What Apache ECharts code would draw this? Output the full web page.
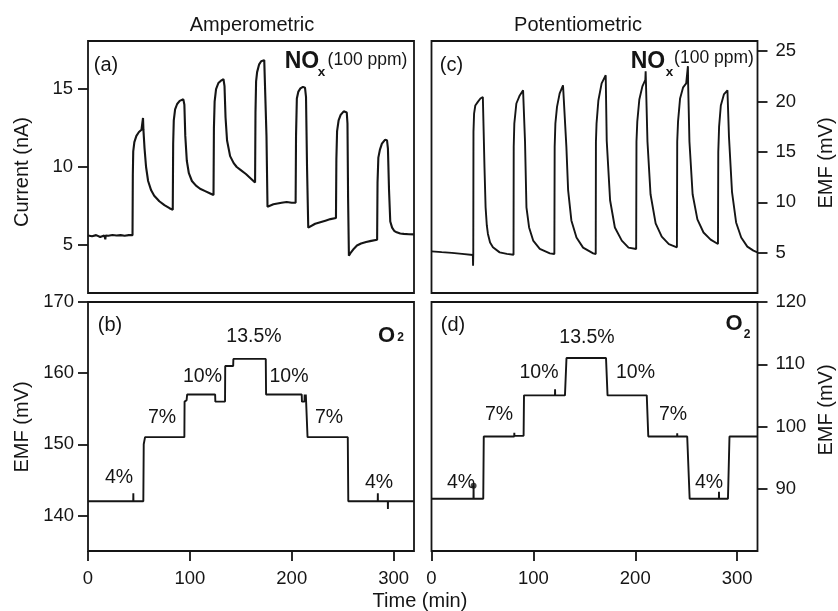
<!DOCTYPE html>
<html>
<head>
<meta charset="utf-8">
<script src="https://cdn.jsdelivr.net/npm/echarts@6/dist/echarts.min.js"></script>
<style>
  html, body { margin: 0; padding: 0; background: #fff; }
  #chart { width: 838px; height: 611px; }
</style>
</head>
<body>
<div id="chart"></div>
<script>
// ---------------- data ----------------
const timeTicks = [0, 100, 200, 300];
const currentTicks = [5, 10, 15];
const noxEmfTicks = [5, 10, 15, 20, 25];
const o2AmpEmfTicks = [140, 150, 160, 170];
const o2PotEmfTicks = [90, 100, 110, 120];
const o2Levels = ['4%', '7%', '10%', '13.5%', '10%', '7%', '4%'];

// (a) amperometric sensor current, nA vs min
const ampNoxCurrent = [
  [0,5.6],[4,5.55],[8,5.62],[12,5.5],[16,5.6],[17,5.35],[17.4,5.6],[20,5.58],[24,5.63],[28,5.6],[32,5.62],[36,5.58],[40,5.62],[43.7,5.62],
  [44,9.5],[44.4,11.0],[45.5,11.6],[47.5,12.0],[50,12.25],[52.5,12.4],[53.7,12.5],[54,13.15],[54.4,12.4],[55.5,11.2],[57,10.0],[59,9.1],[62,8.5],[65,8.15],[70,7.8],[75,7.55],[80,7.35],[83.2,7.25],
  [83.6,11.5],[84.2,13.0],[85.5,13.7],[87.5,14.05],[90,14.25],[93.6,14.35],[94.6,14.0],[95.5,12.0],[97,10.4],[99,9.6],[102,9.1],[106,8.8],[110,8.6],[115,8.45],[120,8.3],[123.2,8.2],
  [123.6,12.5],[124.3,14.2],[125.7,15.0],[128,15.4],[130.5,15.55],[133,15.64],[134,15.2],[135,13.2],[136.5,11.7],[139.5,10.7],[143,10.25],[146,10.0],[150,9.8],[155,9.55],[160,9.25],[164,9.0],
  [164.4,13.5],[165,15.5],[166,16.1],[168,16.6],[170,16.8],[173,16.87],[174.6,16.75],[175.2,12.0],[176.2,7.45],[178,7.55],[182,7.6],[186,7.65],[190,7.7],[195,7.75],[200,7.7],[203.8,7.7],
  [204.2,12.0],[205,14.4],[206.5,14.85],[208.5,15.05],[211,15.15],[213,15.1],[214,14.5],[215,10.0],[216.2,6.1],[218,6.15],[223,6.35],[228,6.45],[233,6.55],[238,6.65],[243.4,6.72],
  [243.8,10.5],[244.5,12.3],[246,13.0],[248,13.35],[251,13.58],[254,13.5],[254.7,12.8],[255.3,8.0],[256.1,4.3],[258,4.5],[261,4.75],[264,4.95],[268,5.08],[273,5.18],[278,5.25],[283.8,5.32],
  [284.2,9.0],[285,10.6],[286.5,11.1],[288.5,11.5],[291.5,11.75],[293.5,11.72],[294.4,11.2],[295.5,8.5],[296.7,6.5],[298.5,6.1],[300.5,5.9],[303,5.8],[306.5,5.72],[310,5.7],[315,5.68],[320,5.67]
];

// (c) potentiometric sensor EMF, mV vs min
const potNoxEmf = [
  [0,5.13],[10,5.05],[20,4.98],[30,4.88],[40.6,4.77],[40.8,3.7],[41.0,4.8],[41.2,17.0],[41.8,18.8],[43,19.6],[45.5,19.96],[48,20.3],[50.4,20.45],
  [51.2,17.0],[52,13.5],[53.1,9.5],[54.3,7.7],[55.4,6.86],[57.5,6.0],[60.3,5.53],[66.9,5.03],[74,4.88],[80.5,4.8],
  [80.7,15.5],[81.3,17.8],[83.3,19.8],[86.6,20.6],[89.9,21.1],[90.5,21.1],[91.8,16.0],[93.2,9.5],[95.8,7.5],[99.8,6.2],[106.3,5.37],[116.2,4.93],[120.6,4.87],
  [120.9,15.5],[121.6,17.8],[123.2,19.46],[125.8,20.8],[129.1,21.6],[130.8,21.7],[132.4,15.5],[134.1,11.2],[137.3,8.2],[142.3,6.5],[148.8,5.5],[158.7,4.93],[161.2,4.87],
  [161.4,16.0],[162,17.8],[163.8,20.1],[167,21.8],[171,22.6],[172,16.1],[175.3,10.2],[180,7.5],[186.8,6.2],[193.4,5.5],[200.9,5.37],
  [201.2,16.0],[202,18.0],[204,20.2],[207,21.5],[209.9,22.15],[210.2,23.0],[210.5,21.9],[212,16.0],[215,10.8],[220,7.9],[226,6.6],[233,5.85],[240.9,5.53],
  [241.2,16.0],[242,18.0],[244,20.3],[247,21.4],[250,21.8],[251.5,21.85],[251.7,23.5],[251.9,21.8],[253.2,16.0],[256.3,10.8],[261,8.3],[267,7.0],[274,6.3],[281.2,5.86],
  [281.5,15.0],[282.3,17.5],[284,19.6],[287,20.7],[290.5,21.1],[292,16.5],[295,11.0],[299,8.0],[304,6.5],[310,5.6],[316,5.2],[320,5.03]
];

// (b) O2 staircase seen by the amperometric cell, mV vs min
const ampO2Emf = [
  [0,142],[44.4,142],[44.5,143.1],[44.6,142],[54.3,142],[54.7,150],[55.6,150.2],[56,151],[94.6,151],[94.8,156],[96.8,156.2],[97.3,157],
  [124.8,157],[125,156],[134.5,156],[134.7,161],[142.5,161],[142.7,162],[174.5,162],[174.8,157],[209.8,157],[210,156],[212.5,156],
  [212.7,157],[213.3,156.2],[213.8,157],[214.1,156],[215.5,151],[255,151],[255.5,142],[284.4,142],[284.5,143.1],[284.6,142],
  [294.3,142],[294.4,140.9],[294.5,142],[320,142]
];

// (d) O2 staircase seen by the potentiometric cell, mV vs min
const potO2Emf = [
  [0,88.4],[41.2,88.4],[41.3,90.5],[41.4,88.4],[50.8,88.4],[51.3,98.4],[81.2,98.4],[81.3,99.0],[81.4,98.5],[90.4,98.5],[90.8,105],
  [121.2,105],[121.3,106],[121.4,105],[131,105],[132.5,111],[171.3,111],[172.8,105],[211.3,105],[212.8,98.4],[241.1,98.4],[241.2,98.9],
  [241.3,98.4],[251,98.4],[253.4,88.4],[282.1,88.4],[282.2,89.5],[282.3,88.4],[291,88.4],[292.5,98.4],[320,98.4]
];
const potO2Marker = [[41.3, 90.5]];

// ---------------- layout & styling ----------------
const FONT = '"Liberation Sans", Arial, Helvetica, sans-serif';
const INK = '#151515';
const TICK_FS = 18.5;

const grids = [
  { left: 88,    top: 41,  width: 326, height: 252 },  // (a)
  { left: 88,    top: 302, width: 326, height: 249 },  // (b)
  { left: 431.5, top: 41,  width: 326, height: 252 },  // (c)
  { left: 431.5, top: 302, width: 326, height: 249 }   // (d)
].map(g => Object.assign({
  show: true, borderColor: INK, borderWidth: 1.8, backgroundColor: 'transparent',
  containLabel: false, outerBoundsMode: 'none'
}, g));

function xAxisFor(gi, labelled) {
  return {
    type: 'value', gridIndex: gi, min: 0, max: 320, position: 'bottom',
    axisLine: { show: false, onZero: false },
    splitLine: { show: false },
    axisTick: { show: labelled, inside: false, length: 10, customValues: timeTicks,
                lineStyle: { color: INK, width: 1.8 } },
    axisLabel: { show: labelled, customValues: timeTicks, margin: 18,
                 fontSize: TICK_FS, fontFamily: FONT, color: INK }
  };
}
function yAxisFor(gi, min, max, ticks, pos, margin) {
  return {
    type: 'value', gridIndex: gi, min, max, position: pos,
    axisLine: { show: false, onZero: false },
    splitLine: { show: false },
    axisTick: { show: true, inside: false, length: 10, customValues: ticks,
                lineStyle: { color: INK, width: 1.8 } },
    axisLabel: { show: true, customValues: ticks, margin,
                 fontSize: TICK_FS, fontFamily: FONT, color: INK }
  };
}

function lineSeries(data, gi, width) {
  return {
    type: 'line', xAxisIndex: gi, yAxisIndex: gi, data,
    showSymbol: false, symbol: 'none', smooth: false, animation: false,
    lineStyle: { color: INK, width }
  };
}

function text(x, y, s, size, extra) {
  return Object.assign({
    type: 'text', x, y, silent: true,
    style: Object.assign({
      text: s, fontSize: size, fontFamily: FONT, fill: INK,
      align: 'center', verticalAlign: 'middle'
    }, (extra && extra.style) || {})
  }, extra ? { rotation: extra.rotation || 0 } : {});
}

// O2 percentage labels for the two staircases
const o2AmpLabelPos = [[119,478],[162,418],[202.5,377],[254,337],[289,377],[329,418],[379,483]];
const o2PotLabelPos = [[461,483],[499,415],[539,372.5],[587,337.5],[635.5,372.5],[673,415],[709,483]];

const graphics = [
  text(252, 25, 'Amperometric', 20),
  text(578, 25, 'Potentiometric', 20),
  text(420, 601, 'Time (min)', 20),
  text(22.5, 172, 'Current (nA)', 20, { rotation: Math.PI / 2 }),
  text(22.5, 427, 'EMF (mV)', 20, { rotation: Math.PI / 2 }),
  text(826, 163, 'EMF (mV)', 20, { rotation: Math.PI / 2 }),
  text(826, 410, 'EMF (mV)', 20, { rotation: Math.PI / 2 }),
  text(106, 65, '(a)', 20),
  text(110, 325, '(b)', 20),
  text(451.5, 65, '(c)', 20),
  text(453, 325.5, '(d)', 20),
  // NOx (100 ppm) captions
  text(302, 62, 'NO', 23, { style: { fontWeight: 'bold' } }),
  text(321.5, 72, 'x', 13.5, { style: { fontWeight: 'bold' } }),
  text(367.5, 60, '(100 ppm)', 17.5),
  text(648, 61.5, 'NO', 23, { style: { fontWeight: 'bold' } }),
  text(669.5, 72, 'x', 13.5, { style: { fontWeight: 'bold' } }),
  text(714, 58.5, '(100 ppm)', 17.5),
  // O2 captions
  text(386.5, 336, 'O', 22, { style: { fontWeight: 'bold' } }),
  text(400.5, 338, '2', 12, { style: { fontWeight: 'bold' } }),
  text(734, 324, 'O', 22, { style: { fontWeight: 'bold' } }),
  text(747, 334.5, '2', 12, { style: { fontWeight: 'bold' } })
];
o2Levels.forEach((s, i) => {
  graphics.push(text(o2AmpLabelPos[i][0], o2AmpLabelPos[i][1], s, 19.5));
  graphics.push(text(o2PotLabelPos[i][0], o2PotLabelPos[i][1], s, 19.5));
});

const option = {
  backgroundColor: '#fff',
  animation: false,
  grid: grids,
  xAxis: [xAxisFor(0, false), xAxisFor(1, true), xAxisFor(2, false), xAxisFor(3, true)],
  yAxis: [
    yAxisFor(0, 1.9, 18.1, currentTicks, 'left', 15),
    yAxisFor(1, 135, 170, o2AmpEmfTicks, 'left', 14),
    yAxisFor(2, 1, 26, noxEmfTicks, 'right', 18),
    yAxisFor(3, 80, 120, o2PotEmfTicks, 'right', 18)
  ],
  series: [
    lineSeries(ampNoxCurrent, 0, 2.1),
    lineSeries(ampO2Emf, 1, 1.9),
    lineSeries(potNoxEmf, 2, 1.9),
    lineSeries(potO2Emf, 3, 1.9),
    {
      type: 'scatter', xAxisIndex: 3, yAxisIndex: 3, data: potO2Marker,
      symbol: 'circle', symbolSize: 6, itemStyle: { color: INK }, animation: false
    }
  ],
  graphic: graphics
};

const chart = echarts.init(document.getElementById('chart'), null, { renderer: 'canvas' });
chart.setOption(option);
</script>
</body>
</html>
